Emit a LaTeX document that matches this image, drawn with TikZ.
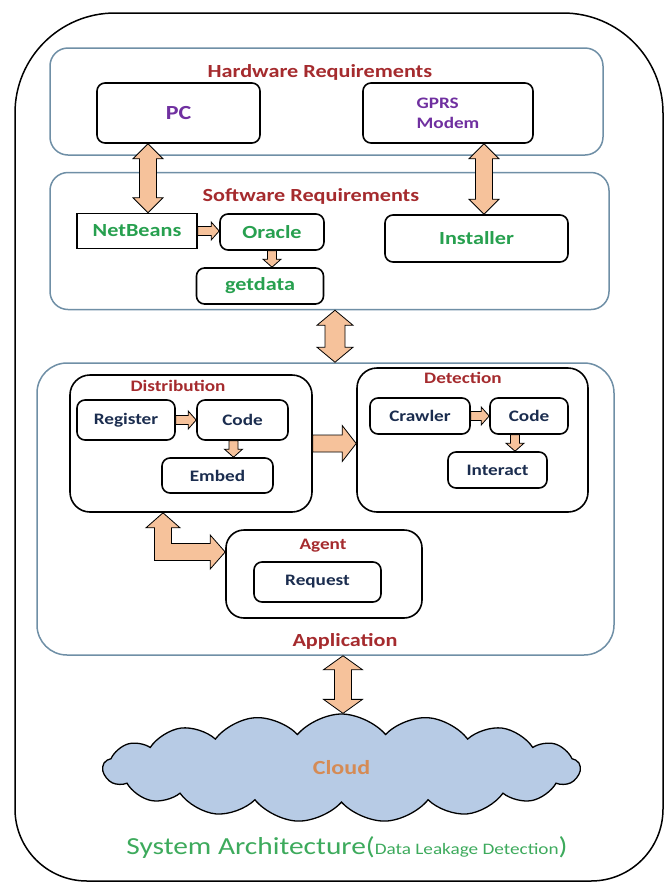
\documentclass[tikz,border=0pt]{standalone}
\usepackage{fontspec}
\setmainfont{Carlito}[FakeStretch=1.2]
\usetikzlibrary{calc,shapes.symbols}

\definecolor{peach}{HTML}{F6C29B}
\definecolor{grpblue}{HTML}{6F8FA6}
\definecolor{darkred}{HTML}{A52B2E}
\definecolor{hwpurple}{HTML}{7030A0}
\definecolor{swgreen}{HTML}{27A04F}
\definecolor{navy}{HTML}{1B2D4F}
\definecolor{cloudblue}{HTML}{B7CBE5}
\definecolor{cloudorange}{HTML}{D58B55}
\definecolor{titlegreen}{HTML}{3DAA5C}

\newcommand{\tsize}[1]{\fontsize{#1}{#1}\selectfont}

\tikzset{
  group/.style={draw=grpblue, line width=1.5pt, rounded corners=18pt, fill=white},
  panel/.style={draw, line width=1.6pt, rounded corners=20pt, fill=white},
  box/.style={draw, line width=1.6pt, rounded corners=8pt, fill=white, inner sep=0pt},
  hwbox/.style={box, text=hwpurple, font=\bfseries\tsize{16}},
  swbox/.style={box, text=swgreen, font=\bfseries\tsize{18.5}},
  appbox/.style={box, text=navy, font=\bfseries\tsize{16}},
  heading/.style={text=darkred, font=\bfseries\tsize{18.5}, inner sep=0pt},
  subheading/.style={text=darkred, font=\bfseries\tsize{16}, inner sep=0pt},
  % block arrows: shaft half width, head half width, head length
  fat/.style n args={3}{fill=peach, draw=black, line width=0.8pt,
    to path={($(\tikztostart)!#1!90:(\tikztotarget)$)
      -- ($(\tikztotarget)!#3!(\tikztostart)!#1!90:(\tikztotarget)$)
      -- ($(\tikztotarget)!#3!(\tikztostart)!#2!90:(\tikztotarget)$)
      -- (\tikztotarget)
      -- ($(\tikztotarget)!#3!(\tikztostart)!#2!-90:(\tikztotarget)$)
      -- ($(\tikztotarget)!#3!(\tikztostart)!#1!-90:(\tikztotarget)$)
      -- ($(\tikztostart)!#1!-90:(\tikztotarget)$) -- cycle}},
  fatboth/.style n args={3}{fill=peach, draw=black, line width=0.8pt,
    to path={(\tikztostart)
      -- ($(\tikztostart)!#3!(\tikztotarget)!#2!90:(\tikztotarget)$)
      -- ($(\tikztostart)!#3!(\tikztotarget)!#1!90:(\tikztotarget)$)
      -- ($(\tikztotarget)!#3!(\tikztostart)!#1!90:(\tikztotarget)$)
      -- ($(\tikztotarget)!#3!(\tikztostart)!#2!90:(\tikztotarget)$)
      -- (\tikztotarget)
      -- ($(\tikztotarget)!#3!(\tikztostart)!#2!-90:(\tikztotarget)$)
      -- ($(\tikztotarget)!#3!(\tikztostart)!#1!-90:(\tikztotarget)$)
      -- ($(\tikztostart)!#3!(\tikztotarget)!#1!-90:(\tikztotarget)$)
      -- ($(\tikztostart)!#3!(\tikztotarget)!#2!-90:(\tikztotarget)$) -- cycle}},
  small/.style={fat={4.5pt}{9pt}{8pt}}
}

\begin{document}
\begin{tikzpicture}[x=1pt,y=-1pt]
  \useasboundingbox (0,0) rectangle (671,884);
  % outer frame
  \draw[line width=1.5pt] (15,450) [rounded corners=100pt] |- (340,13) -| (663,450)
    [rounded corners=72pt] |- (340,881) -| (15,450) -- cycle;

  % hardware
  \node[group, minimum width=553pt, minimum height=107pt] (hw) at (326.5,101.5) {};
  \node[heading] (hwtitle) at (320,72) {Hardware Requirements};
  \node[hwbox, minimum width=163pt, minimum height=60pt, font=\bfseries\tsize{20}] (pc) at (178.5,113) {PC};
  \node[hwbox, minimum width=170pt, minimum height=60pt, align=left, font=\bfseries\fontsize{16}{20}\selectfont] (gprs) at (448,113) {GPRS\\Modem};

  % software
  \node[group, minimum width=559pt, minimum height=137pt] (sw) at (329.5,241) {};
  \node[heading] (swtitle) at (311,196) {Software Requirements};
  \node[swbox, sharp corners, minimum width=120pt, minimum height=35pt] (nb) at (137,231) {NetBeans};
  \node[swbox, minimum width=104pt, minimum height=36pt] (oracle) at (272,232) {Oracle};
  \node[swbox, minimum width=127pt, minimum height=36pt] (getdata) at (260,286) {getdata};
  \node[swbox, minimum width=183pt, minimum height=47pt] (installer) at (476.5,238.5) {Installer};

  % application
  \node[group, rounded corners=30pt, minimum width=577pt, minimum height=292pt] (app) at (325.5,509) {};
  \node[heading] (apptitle) at (345,641) {Application};

  \node[panel, minimum width=242pt, minimum height=137pt] (dist) at (191,443.5) {};
  \node[subheading] (disttitle) at (178,386) {Distribution};
  \node[appbox, minimum width=98pt, minimum height=40pt] (reg) at (126,420) {Register};
  \node[appbox, minimum width=91pt, minimum height=40pt] (code1) at (242.5,420) {Code};
  \node[appbox, minimum width=111pt, minimum height=35pt] (embed) at (217.5,475.5) {Embed};

  \node[panel, minimum width=231pt, minimum height=144pt] (det) at (472.5,440) {};
  \node[subheading] (dettitle) at (463,378) {Detection};
  \node[appbox, minimum width=100pt, minimum height=36pt] (crawl) at (420,416) {Crawler};
  \node[appbox, minimum width=78pt, minimum height=36pt] (code2) at (529,416) {Code};
  \node[appbox, minimum width=99pt, minimum height=36pt] (interact) at (497.5,470) {Interact};

  \node[panel, rounded corners=18pt, minimum width=196pt, minimum height=88pt] (agent) at (324,574) {};
  \node[subheading] (agenttitle) at (323,546) {Agent};
  \node[appbox, minimum width=127pt, minimum height=40pt] (request) at (317.5,582) {Request};

  % cloud
  \node[cloud, cloud puffs=17, cloud puff arc=100, cloud ignores aspect, draw, line width=1.3pt, fill=cloudblue,
    minimum width=477pt, minimum height=108pt, text=cloudorange, font=\bfseries\tsize{20}] (cloud) at (341.5,768) {Cloud};

  \node[text=titlegreen, inner sep=0pt] (caption) at (347,848)
    {\tsize{24.5}System Architecture(\tsize{16}Data Leakage Detection\tsize{24.5})};

  % arrows
  \draw[fatboth={8.5pt}{15pt}{15pt}] ([xshift=-30.5pt]pc.south) to ([xshift=11pt]nb.north);
  \draw[fatboth={8.5pt}{15pt}{15pt}] ([xshift=36pt]gprs.south) to ([xshift=7.5pt]installer.north);
  \draw[small] (nb.east) to (nb.east -| oracle.west);
  \draw[small] (oracle.south) to (oracle.south |- getdata.north);
  \draw[fatboth={10pt}{18pt}{15pt}] ([xshift=5.5pt]sw.south) to ([xshift=9.5pt]app.north);

  \draw[small] (reg.east) to (reg.east -| code1.west);
  \coordinate (c1s) at ([xshift=-9pt]code1.south);
  \draw[small] (c1s) to (c1s |- embed.north);
  \draw[small] (crawl.east) to (crawl.east -| code2.west);
  \coordinate (c2s) at ([xshift=-14pt]code2.south);
  \draw[small] (c2s) to (c2s |- interact.north);
  \draw[fat={8.5pt}{18pt}{14pt}] (dist.east) to (dist.east -| det.west);

  \coordinate (ltip) at ([xshift=-28pt]dist.south);
  \coordinate (atip) at ([yshift=22pt]agent.west);
  \coordinate (elbow) at (ltip |- atip);
  \draw[fill=peach, line width=0.8pt] (ltip) -- ([shift={(17,15)}]ltip) -- ([shift={(8.5,15)}]ltip)
    -- ([shift={(8.5,-8.5)}]elbow) -- ([shift={(-15,-8.5)}]atip) -- ([shift={(-15,-17)}]atip)
    -- (atip) -- ([shift={(-15,17)}]atip) -- ([shift={(-15,8.5)}]atip)
    -- ([shift={(-8.5,8.5)}]elbow) -- ([shift={(-8.5,15)}]ltip) -- ([shift={(-17,15)}]ltip) -- cycle;

  \draw[fatboth={8.5pt}{19.5pt}{14pt}] ([xshift=17.5pt]app.south) to ([xshift=1.5pt]cloud.north);
\end{tikzpicture}
\end{document}
